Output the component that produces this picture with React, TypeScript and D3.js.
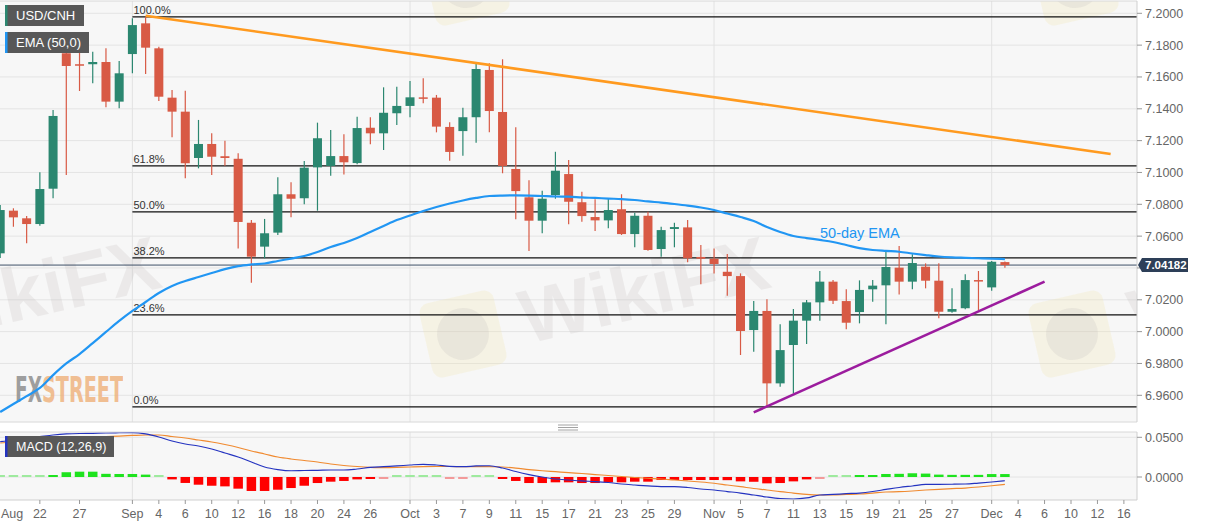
import React from 'react'
import * as d3 from 'd3'

// weekdays on the time axis (Aug 19 – Dec 17, 2019)
const days = d3.timeDay
  .range(new Date(2019, 7, 19), new Date(2019, 11, 18))
  .filter(d => d.getDay() !== 0 && d.getDay() !== 6)
  .map(d3.timeFormat('%Y-%m-%d'))

// USD/CNH daily candles
const open = [
  7.0492, 7.0760, 7.0712, 7.0676, 7.0898, 7.1749, 7.1680, 7.1680, 7.1694, 7.1445,
  7.1744, 7.1937, 7.1780, 7.1470, 7.1382, 7.1091, 7.1179, 7.1102, 7.1086, 7.0684,
  7.0534, 7.0622, 7.0863, 7.0838, 7.1032, 7.1041, 7.1103, 7.1059, 7.1281, 7.1246,
  7.1372, 7.1418, 7.1472, 7.1470, 7.1286, 7.1260, 7.1347, 7.1644, 7.1380, 7.1022,
  7.0844, 7.0697, 7.0858, 7.0990, 7.0813, 7.0720, 7.0699, 7.0769, 7.0613, 7.0728,
  7.0519, 7.0645, 7.0655, 7.0469, 7.0458, 7.0376, 7.0349, 7.0010, 7.0130, 6.9675,
  6.9916, 7.0069, 7.0184, 7.0314, 7.0192, 7.0123, 7.0266, 7.0291, 7.0402, 7.0314,
  7.0408, 7.0320, 7.0125, 7.0147, 7.0324, 7.0278, 7.0437,
]
const high = [
  7.0796, 7.0775, 7.0726, 7.1001, 7.1392, 7.1790, 7.1812, 7.1759, 7.1780, 7.1700,
  7.1969, 7.1977, 7.1790, 7.1518, 7.1514, 7.1330, 7.1246, 7.1200, 7.1120, 7.0701,
  7.0708, 7.0970, 7.0938, 7.1072, 7.1313, 7.1267, 7.1240, 7.1350, 7.1347, 7.1535,
  7.1539, 7.1575, 7.1592, 7.1487, 7.1315, 7.1407, 7.1681, 7.1686, 7.1711, 7.1284,
  7.0951, 7.0885, 7.1130, 7.1078, 7.0879, 7.0831, 7.0838, 7.0863, 7.0747, 7.0753,
  7.0659, 7.0684, 7.0701, 7.0544, 7.0523, 7.0488, 7.0366, 7.0192, 7.0203, 7.0046,
  7.0142, 7.0199, 7.0381, 7.0324, 7.0266, 7.0322, 7.0324, 7.0502, 7.0538, 7.0486,
  7.0429, 7.0429, 7.0272, 7.0360, 7.0381, 7.0444, 7.0440,
]
const low = [
  7.0463, 7.0659, 7.0555, 7.0665, 7.0838, 7.0984, 7.1512, 7.1560, 7.1409, 7.1403,
  7.1623, 7.1619, 7.1449, 7.1221, 7.0963, 7.1026, 7.0984, 7.1042, 7.0523, 7.0307,
  7.0461, 7.0607, 7.0718, 7.0800, 7.0760, 7.0980, 7.0988, 7.1051, 7.1177, 7.1141,
  7.1298, 7.1347, 7.1435, 7.1252, 7.1074, 7.1105, 7.1187, 7.1252, 7.0995, 7.0706,
  7.0507, 7.0618, 7.0835, 7.0674, 7.0691, 7.0632, 7.0649, 7.0607, 7.0530, 7.0508,
  7.0471, 7.0530, 7.0436, 7.0297, 7.0366, 7.0226, 6.9853, 6.9874, 6.9527, 6.9654,
  6.9612, 6.9922, 7.0069, 7.0174, 7.0015, 7.0052, 7.0188, 7.0046, 7.0234, 7.0266,
  7.0272, 7.0084, 7.0119, 7.0140, 7.0136, 7.0257, 7.0402,
]
const close = [
  7.0764, 7.0718, 7.0676, 7.0896, 7.1355, 7.1669, 7.1671, 7.1694, 7.1445, 7.1623,
  7.1926, 7.1784, 7.1476, 7.1382, 7.1058, 7.1179, 7.1099, 7.1091, 7.0689, 7.0471,
  7.0618, 7.0863, 7.0835, 7.1030, 7.1215, 7.1103, 7.1064, 7.1279, 7.1246, 7.1375,
  7.1418, 7.1472, 7.1463, 7.1288, 7.1129, 7.1347, 7.1650, 7.1386, 7.1041, 7.0883,
  7.0697, 7.0835, 7.1011, 7.0816, 7.0726, 7.0699, 7.0764, 7.0613, 7.0728, 7.0513,
  7.0638, 7.0657, 7.0461, 7.0458, 7.0425, 7.0349, 7.0004, 7.0130, 6.9675, 6.9884,
  7.0069, 7.0184, 7.0314, 7.0194, 7.0056, 7.0262, 7.0289, 7.0406, 7.0314, 7.0431,
  7.0320, 7.0125, 7.0142, 7.0324, 7.0318, 7.0439, 7.0418,
]
// EMA (50)
const ema50 = [
  6.9495, 6.9545, 6.9595, 6.9646, 6.9727, 6.9800, 6.9859, 6.9928, 6.9998, 7.0067,
  7.0130, 7.0186, 7.0243, 7.0287, 7.0318, 7.0343, 7.0368, 7.0393, 7.0412, 7.0422,
  7.0428, 7.0444, 7.0459, 7.0475, 7.0500, 7.0532, 7.0557, 7.0588, 7.0626, 7.0664,
  7.0701, 7.0730, 7.0758, 7.0783, 7.0805, 7.0824, 7.0840, 7.0852, 7.0855, 7.0856,
  7.0855, 7.0852, 7.0849, 7.0848, 7.0843, 7.0840, 7.0836, 7.0833, 7.0827, 7.0818,
  7.0811, 7.0802, 7.0792, 7.0780, 7.0764, 7.0742, 7.0720, 7.0695, 7.0657, 7.0626,
  7.0601, 7.0588, 7.0576, 7.0563, 7.0544, 7.0525, 7.0513, 7.0507, 7.0502, 7.0491,
  7.0481, 7.0472, 7.0467, 7.0464, 7.0461, 7.0459, 7.0456,
]
// MACD (12,26,9)
const macd = [
  0.0445, 0.0466, 0.0491, 0.0510, 0.0529, 0.0542, 0.0548, 0.0550, 0.0554, 0.0557,
  0.0558, 0.0542, 0.0504, 0.0453, 0.0416, 0.0390, 0.0353, 0.0302, 0.0252, 0.0189,
  0.0126, 0.0094, 0.0079, 0.0082, 0.0084, 0.0088, 0.0088, 0.0101, 0.0120, 0.0130,
  0.0139, 0.0151, 0.0160, 0.0151, 0.0135, 0.0130, 0.0139, 0.0142, 0.0113, 0.0069,
  0.0031, 0.0000, -0.0025, -0.0038, -0.0050, -0.0057, -0.0069, -0.0088, -0.0101, -0.0113,
  -0.0122, -0.0122, -0.0132, -0.0151, -0.0164, -0.0183, -0.0202, -0.0227, -0.0252, -0.0271,
  -0.0277, -0.0264, -0.0227, -0.0220, -0.0210, -0.0202, -0.0183, -0.0157, -0.0132, -0.0113,
  -0.0094, -0.0092, -0.0091, -0.0088, -0.0076, -0.0063, -0.0047,
]
const signal = [
  0.0428, 0.0441, 0.0453, 0.0466, 0.0479, 0.0491, 0.0497, 0.0504, 0.0510, 0.0516,
  0.0523, 0.0529, 0.0529, 0.0510, 0.0491, 0.0466, 0.0441, 0.0409, 0.0372, 0.0327,
  0.0290, 0.0252, 0.0227, 0.0208, 0.0189, 0.0164, 0.0145, 0.0132, 0.0122, 0.0117,
  0.0120, 0.0126, 0.0130, 0.0132, 0.0132, 0.0130, 0.0130, 0.0130, 0.0126, 0.0113,
  0.0094, 0.0079, 0.0067, 0.0054, 0.0044, 0.0031, 0.0019, 0.0006, -0.0006, -0.0016,
  -0.0025, -0.0038, -0.0050, -0.0063, -0.0079, -0.0101, -0.0122, -0.0145, -0.0164, -0.0185,
  -0.0202, -0.0220, -0.0227, -0.0227, -0.0220, -0.0214, -0.0202, -0.0189, -0.0185, -0.0176,
  -0.0164, -0.0155, -0.0147, -0.0139, -0.0126, -0.0110, -0.0092,
]
const hist = [
  0.0005, 0.0005, 0.0002, 0.0003, 0.0025, 0.0060, 0.0067, 0.0067, 0.0040, 0.0038,
  0.0038, 0.0030, 0.0001, -0.0030, -0.0075, -0.0097, -0.0110, -0.0118, -0.0147, -0.0176,
  -0.0176, -0.0160, -0.0139, -0.0110, -0.0076, -0.0059, -0.0050, -0.0030, -0.0020, -0.0005,
  0.0005, 0.0010, 0.0010, 0.0005, -0.0008, -0.0008, 0.0005, 0.0003, -0.0020, -0.0050,
  -0.0076, -0.0076, -0.0067, -0.0067, -0.0076, -0.0076, -0.0067, -0.0067, -0.0059, -0.0059,
  -0.0038, -0.0038, -0.0038, -0.0038, -0.0038, -0.0040, -0.0055, -0.0060, -0.0080, -0.0076,
  -0.0055, -0.0030, -0.0010, 0.0005, 0.0005, 0.0015, 0.0025, 0.0038, 0.0040, 0.0047,
  0.0043, 0.0030, 0.0027, 0.0027, 0.0027, 0.0037, 0.0037,
]

const priceTicks = [7.2, 7.18, 7.16, 7.14, 7.12, 7.1, 7.08, 7.06, 7.04, 7.02, 7.0, 6.98, 6.96]
const macdTicks = [0.05, 0]
const xTicks: [string, string][] = [
  ['2019-08-22', '22'], ['2019-08-27', '27'], ['2019-09-02', 'Sep'], ['2019-09-04', '4'],
  ['2019-09-06', '6'], ['2019-09-10', '10'], ['2019-09-12', '12'], ['2019-09-16', '16'],
  ['2019-09-18', '18'], ['2019-09-20', '20'], ['2019-09-24', '24'], ['2019-09-26', '26'],
  ['2019-10-01', 'Oct'], ['2019-10-03', '3'], ['2019-10-07', '7'], ['2019-10-09', '9'],
  ['2019-10-11', '11'], ['2019-10-15', '15'], ['2019-10-17', '17'], ['2019-10-21', '21'],
  ['2019-10-23', '23'], ['2019-10-25', '25'], ['2019-10-29', '29'], ['2019-11-01', 'Nov'],
  ['2019-11-05', '5'], ['2019-11-07', '7'], ['2019-11-11', '11'], ['2019-11-13', '13'],
  ['2019-11-15', '15'], ['2019-11-19', '19'], ['2019-11-21', '21'], ['2019-11-25', '25'],
  ['2019-11-27', '27'], ['2019-12-02', 'Dec'], ['2019-12-04', '4'], ['2019-12-06', '6'],
  ['2019-12-10', '10'], ['2019-12-12', '12'], ['2019-12-16', '16'],
]
const monthStarts = ['2019-09-02', '2019-10-01', '2019-11-01', '2019-12-02']

// Fibonacci retracement of the Sep high / Nov low swing
const fibLevels = [1, 0.618, 0.5, 0.382, 0.236, 0]
const fibLabels = ['100.0%', '61.8%', '50.0%', '38.2%', '23.6%', '0.0%']
const fibHigh = 7.1977
const fibLow = 6.9527
const fibStart = '2019-09-02'

const resistance: [string, number][] = [['2019-09-03', 7.1985], ['2019-12-13', 7.1116]]
const support: [string, number][] = [['2019-11-06', 6.9493], ['2019-12-06', 7.0314]]
const lastPrice = 7.04182

const FONT = '"Liberation Sans", Arial, sans-serif'
const UP = '#2b8770'
const DOWN = '#d85a45'
const R = 1137 // right edge of the plot panels

function Watermark({ cx, cy, label = true }: { cx: number; cy: number; label?: boolean }) {
  return (
    <g transform={`translate(${cx},${cy}) rotate(-13)`}>
      <rect x={-38} y={-38} width={76} height={76} rx={10} fill="#f3e2a4" opacity={0.22} />
      <circle cx={0} cy={0} r={26} fill="#b9b1b1" opacity={0.18} />
      {label && (
        <text x={60} y={24} fontFamily={FONT} fontWeight="bold" fontSize={76} fill="#bdb5b5" opacity={0.2}>WikiFX</text>
      )}
    </g>
  )
}

export default function App() {
  const x = d3.scalePoint<string>().domain(days).range([0.2, 1137.1])
  const y = d3.scaleLinear().domain([6.96, 7.2]).range([395.3, 13.3])
  const ym = d3.scaleLinear().domain([0, 0.05]).range([477, 437.3])
  const cd = days.slice(0, close.length)
  const xi = (i: number) => x(cd[i])!

  const emaPath = d3.line<number>().x((_, i) => xi(i)).y(v => y(v)).curve(d3.curveMonotoneX)(ema50)!
  const macdPath = d3.line<number>().x((_, i) => xi(i)).y(v => ym(v)).curve(d3.curveMonotoneX)
  const seg = d3.line<[string, number]>().x(d => x(d[0])!).y(d => y(d[1]))

  const fx0 = x(fibStart)!
  const tagY = y(lastPrice)

  return (
    <svg width={1207} height={526} style={{ position: 'absolute', left: 0, top: 0, background: '#fff' }} fontFamily={FONT}>
      <defs>
        <clipPath id="main"><rect x={0} y={1} width={R} height={421} /></clipPath>
        <clipPath id="sub"><rect x={0} y={432} width={R} height={68} /></clipPath>
      </defs>

      {/* panels */}
      <rect x={0} y={1} width={R} height={421} fill="#f7f7f7" />
      <rect x={0} y={432} width={R} height={68} fill="#f7f7f7" />

      {/* grid */}
      {priceTicks.map(t => (
        <line key={t} x1={0} x2={R} y1={y(t)} y2={y(t)} stroke="#e4e4e4" />
      ))}
      {macdTicks.map(t => (
        <line key={t} x1={0} x2={R} y1={ym(t)} y2={ym(t)} stroke="#e4e4e4" />
      ))}
      {monthStarts.map(d => (
        <g key={d}>
          <line x1={x(d)} x2={x(d)} y1={1} y2={422} stroke="#e2e2e2" />
          <line x1={x(d)} x2={x(d)} y1={432} y2={500} stroke="#e2e2e2" />
        </g>
      ))}

      {/* watermarks */}
      <g clipPath="url(#main)">
        <Watermark cx={463} cy={334} />
        <Watermark cx={-146} cy={334} />
        <Watermark cx={1072} cy={334} />
        <Watermark cx={466} cy={-18} label={false} />
        <Watermark cx={1075} cy={-18} label={false} />
      </g>

      {/* FXStreet logo */}
      <text x={15} y={402} fontFamily='"Liberation Sans Narrow", "DejaVu Sans Condensed", sans-serif' fontWeight="bold" fontSize={36}>
        <tspan fill="#8f8f8f" opacity={0.85} textLength={27} lengthAdjust="spacingAndGlyphs">FX</tspan>
        <tspan fill="#efb07a" opacity={0.8} textLength={81} lengthAdjust="spacingAndGlyphs">STREET</tspan>
      </text>

      {/* fibonacci levels */}
      {fibLevels.map((l, i) => {
        const yy = y(fibLow + l * (fibHigh - fibLow))
        return (
          <g key={l}>
            <line x1={fx0} x2={R} y1={yy} y2={yy} stroke="#111" strokeWidth={1.2} />
            <text x={fx0 + 1} y={yy - 3} fontSize={11} fill="#333">{fibLabels[i]}</text>
          </g>
        )
      })}

      <g clipPath="url(#main)">
        {/* last price line */}
        <line x1={0} x2={R} y1={tagY} y2={tagY} stroke="#3e5068" strokeWidth={1} />

        {/* candles */}
        {cd.map((d, i) => {
          const c = close[i] >= open[i] ? UP : DOWN
          const cx = xi(i)
          const top = y(Math.max(open[i], close[i]))
          const bot = y(Math.min(open[i], close[i]))
          return (
            <g key={d}>
              <line x1={cx} x2={cx} y1={y(high[i])} y2={y(low[i])} stroke={c} strokeWidth={1.2} />
              <rect x={cx - 4.5} y={top} width={9} height={Math.max(1.5, bot - top)} fill={c} />
            </g>
          )
        })}

        {/* 50 EMA */}
        <path d={emaPath} fill="none" stroke="#2196f3" strokeWidth={2.2} />

        {/* trend lines */}
        <path d={seg(resistance)!} fill="none" stroke="#ff9a1f" strokeWidth={2.6} />
        <path d={seg(support)!} fill="none" stroke="#9c1c9e" strokeWidth={2.6} />
      </g>

      <text x={820} y={238} fontSize={14.5} fill="#2196f3">50-day EMA</text>

      {/* MACD panel */}
      <g clipPath="url(#sub)">
        {cd.map((d, i) => {
          const v = hist[i]
          const h = Math.max(2, Math.abs(ym(v) - ym(0)))
          const pale = Math.abs(v) < 0.0012
          const fill = v >= 0 ? (pale ? '#9eea9e' : '#1ee31e') : (pale ? '#f39a9a' : '#ff0000')
          return <rect key={d} x={xi(i) - 4.75} y={v >= 0 ? ym(0) - h : ym(0)} width={9.5} height={h} fill={fill} />
        })}
        <path d={macdPath(signal)!} fill="none" stroke="#f08a30" strokeWidth={1.2} />
        <path d={macdPath(macd)!} fill="none" stroke="#2433c0" strokeWidth={1.2} />
      </g>

      {/* panel borders */}
      <line x1={0} x2={R} y1={1} y2={1} stroke="#d8d8d8" />
      <line x1={0} x2={R} y1={422} y2={422} stroke="#d8d8d8" />
      <line x1={0} x2={R} y1={432} y2={432} stroke="#d8d8d8" />
      <line x1={0} x2={R} y1={500} y2={500} stroke="#cfcfcf" />
      <line x1={R} x2={R} y1={1} y2={422} stroke="#cfcfcf" />
      <line x1={R} x2={R} y1={432} y2={500} stroke="#cfcfcf" />

      {/* panel resize handle */}
      {[425, 427.5, 430].map(v => (
        <line key={v} x1={558} x2={578} y1={v} y2={v} stroke="#8a8a8a" strokeWidth={0.8} />
      ))}

      {/* right price axis (the label under the price tag is hidden) */}
      {priceTicks.map(t => (
        <g key={t}>
          <line x1={R} x2={R + 5} y1={y(t)} y2={y(t)} stroke="#999" />
          {Math.abs(y(t) - tagY) > 12 && (
            <text x={R + 8} y={y(t) + 4.5} fontSize={12.5} fill="#666">{d3.format('.4f')(t)}</text>
          )}
        </g>
      ))}
      {macdTicks.map(t => (
        <g key={t}>
          <line x1={R} x2={R + 5} y1={ym(t)} y2={ym(t)} stroke="#999" />
          <text x={R + 8} y={ym(t) + 4.5} fontSize={12.5} fill="#666">{d3.format('.4f')(t)}</text>
        </g>
      ))}

      {/* last price tag */}
      <g transform={`translate(0,${tagY})`}>
        <path d={`M${R + 1},0 L${R + 5},-7 L${R + 51},-7 L${R + 51},7 L${R + 5},7 Z`} fill="#2d3f58" />
        <text x={R + 8} y={4.2} fontSize={11.5} fontWeight="bold" fill="#fff">{d3.format('.5f')(lastPrice)}</text>
      </g>

      {/* time axis */}
      {xTicks.map(([d, label]) => (
        <g key={d}>
          <line x1={x(d)} x2={x(d)} y1={500} y2={504} stroke="#999" />
          <text x={x(d)} y={518} fontSize={12.5} fill="#666" textAnchor="middle">{label}</text>
        </g>
      ))}
      <text x={1} y={518} fontSize={12.5} fill="#666">Aug</text>

      {/* legends */}
      <rect x={5} y={5} width={79} height={21} fill="#585858" />
      <rect x={5} y={5} width={2.5} height={21} fill={UP} />
      <text x={16} y={20} fontSize={13} fill="#fff">USD/CNH</text>
      <rect x={5} y={32} width={84} height={21} fill="#585858" />
      <rect x={5} y={32} width={2.5} height={21} fill="#2196f3" />
      <text x={16} y={47} fontSize={13} fill="#fff">EMA (50,0)</text>
      <rect x={5} y={436} width={109} height={21} fill="#585858" />
      <rect x={5} y={436} width={2.5} height={21} fill="#2433c0" />
      <text x={16} y={451} fontSize={12.5} fill="#fff">MACD (12,26,9)</text>
    </svg>
  )
}
